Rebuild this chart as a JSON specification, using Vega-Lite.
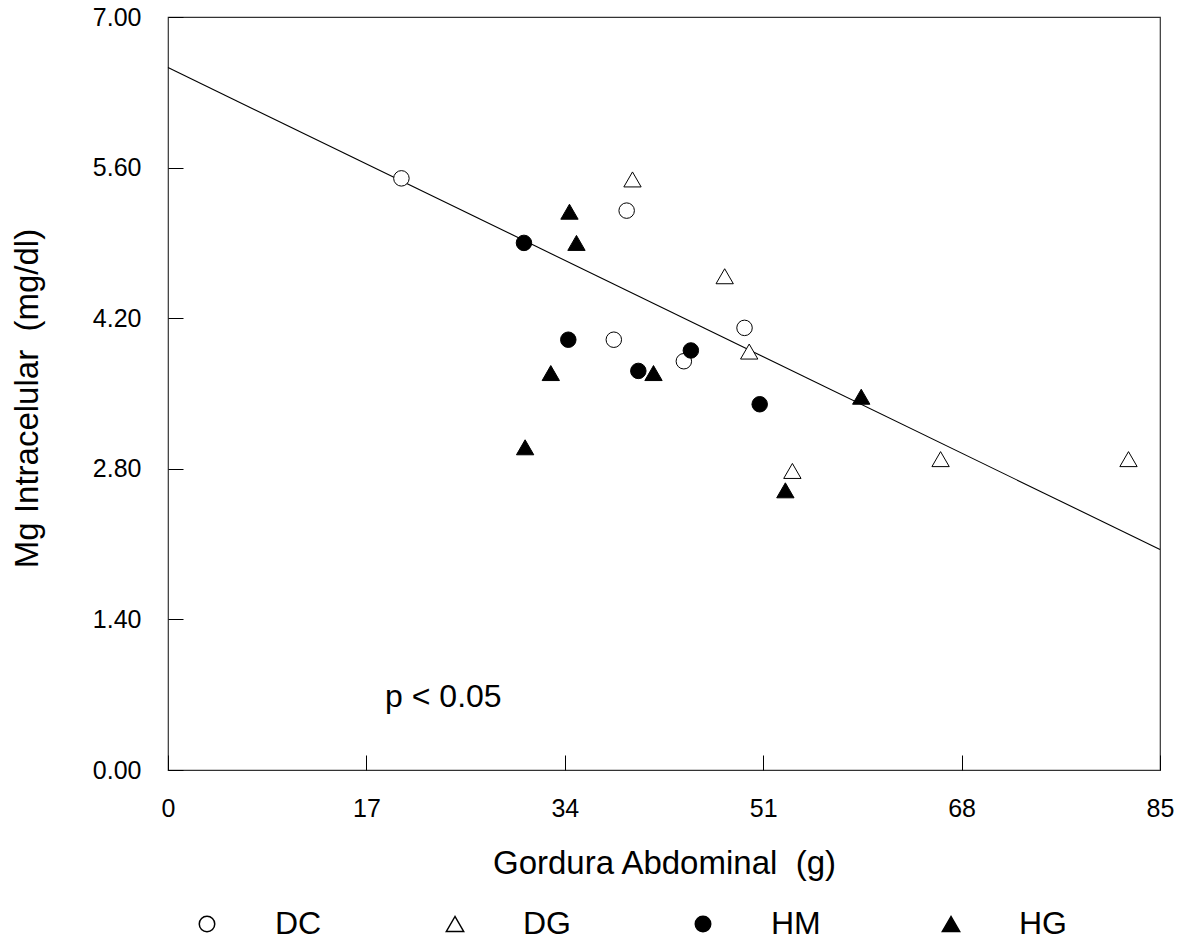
{
  "$schema": "https://vega.github.io/schema/vega-lite/v6.json",
  "width": 992,
  "height": 753,
  "autosize": {"type": "none"},
  "padding": {"left": 168, "top": 17, "right": 26, "bottom": 171},
  "background": "white",
  "config": {
    "font": "Liberation Sans",
    "view": {"stroke": "#333333", "strokeWidth": 1.2}
  },
  "datasets": {
    "pontos": [
      {"grupo": "DC", "gordura": 20.0, "mg": 5.50},
      {"grupo": "DC", "gordura": 39.3, "mg": 5.20},
      {"grupo": "DC", "gordura": 38.2, "mg": 4.00},
      {"grupo": "DC", "gordura": 44.2, "mg": 3.80},
      {"grupo": "DC", "gordura": 49.4, "mg": 4.11},
      {"grupo": "DG", "gordura": 39.8, "mg": 5.49},
      {"grupo": "DG", "gordura": 47.7, "mg": 4.59},
      {"grupo": "DG", "gordura": 49.8, "mg": 3.89},
      {"grupo": "DG", "gordura": 53.5, "mg": 2.78},
      {"grupo": "DG", "gordura": 66.2, "mg": 2.89},
      {"grupo": "DG", "gordura": 82.3, "mg": 2.89},
      {"grupo": "HM", "gordura": 30.5, "mg": 4.90},
      {"grupo": "HM", "gordura": 34.3, "mg": 4.00},
      {"grupo": "HM", "gordura": 40.3, "mg": 3.71},
      {"grupo": "HM", "gordura": 44.8, "mg": 3.90},
      {"grupo": "HM", "gordura": 50.7, "mg": 3.40},
      {"grupo": "HG", "gordura": 34.4, "mg": 5.19},
      {"grupo": "HG", "gordura": 35.0, "mg": 4.90},
      {"grupo": "HG", "gordura": 32.8, "mg": 3.69},
      {"grupo": "HG", "gordura": 41.6, "mg": 3.69},
      {"grupo": "HG", "gordura": 30.6, "mg": 3.00},
      {"grupo": "HG", "gordura": 52.9, "mg": 2.60},
      {"grupo": "HG", "gordura": 59.4, "mg": 3.47}
    ],
    "regressao": [
      {"gordura": 0, "mg": 6.53},
      {"gordura": 85, "mg": 2.05}
    ],
    "anotacao": [
      {"gordura": 18.6, "mg": 0.59, "texto": "p < 0.05"}
    ]
  },
  "encoding": {
    "x": {
      "field": "gordura",
      "type": "quantitative",
      "scale": {"domain": [0, 85], "nice": false, "zero": false},
      "axis": {
        "values": [0, 17, 34, 51, 68, 85],
        "format": "d",
        "domain": false,
        "grid": false,
        "tickSize": -15,
        "tickColor": "black",
        "tickWidth": 1,
        "labelFontSize": 25,
        "labelColor": "black",
        "labelPadding": 41,
        "labelFlush": false,
        "title": "Gordura Abdominal\u00a0 (g)",
        "titleFontSize": 33,
        "titleFontWeight": "normal",
        "titleColor": "black",
        "titleBaseline": "alphabetic",
        "titleY": 103
      }
    },
    "y": {
      "field": "mg",
      "type": "quantitative",
      "scale": {"domain": [0, 7], "nice": false, "zero": false},
      "axis": {
        "values": [0, 1.4, 2.8, 4.2, 5.6, 7],
        "format": ".2f",
        "domain": false,
        "grid": false,
        "tickSize": -15,
        "tickColor": "black",
        "tickWidth": 1,
        "labelFontSize": 25,
        "labelColor": "black",
        "labelPadding": 42,
        "labelFlush": false,
        "title": "Mg Intracelular\u00a0 (mg/dl)",
        "titleFontSize": 33,
        "titleFontWeight": "normal",
        "titleColor": "black",
        "titleX": -124,
        "titleY": 381
      }
    }
  },
  "layer": [
    {
      "data": {"name": "regressao"},
      "mark": {"type": "line", "color": "black", "strokeWidth": 1.1}
    },
    {
      "data": {"name": "pontos"},
      "mark": {"type": "point", "filled": true, "stroke": "black", "strokeWidth": 1, "opacity": 1},
      "encoding": {
        "shape": {
          "field": "grupo",
          "type": "nominal",
          "scale": {"domain": ["DC", "DG", "HM", "HG"], "range": ["circle", "triangle-up", "circle", "triangle-up"]},
          "legend": {
            "orient": "none", "legendX": 23, "legendY": 891, "direction": "horizontal",
            "columns": 4, "gridAlign": "all", "title": null, "padding": 0,
            "labelFontSize": 32, "labelColor": "black", "labelOffset": 52, "columnPadding": 114,
            "encode": {"symbols": {"update": {"stroke": {"value": "black"}, "strokeWidth": {"value": 1}, "opacity": {"value": 1}}}}
          }
        },
        "fill": {
          "field": "grupo",
          "type": "nominal",
          "scale": {"domain": ["DC", "DG", "HM", "HG"], "range": ["white", "white", "black", "black"]},
          "legend": {
            "orient": "none", "legendX": 23, "legendY": 891, "direction": "horizontal",
            "columns": 4, "gridAlign": "all", "title": null, "padding": 0,
            "labelFontSize": 32, "labelColor": "black", "labelOffset": 52, "columnPadding": 114,
            "encode": {"symbols": {"update": {"stroke": {"value": "black"}, "strokeWidth": {"value": 1}, "opacity": {"value": 1}}}}
          }
        },
        "size": {
          "field": "grupo",
          "type": "nominal",
          "scale": {"type": "ordinal", "domain": ["DC", "DG", "HM", "HG"], "range": [240, 300, 240, 300]},
          "legend": {
            "orient": "none", "legendX": 23, "legendY": 891, "direction": "horizontal",
            "columns": 4, "gridAlign": "all", "title": null, "padding": 0,
            "labelFontSize": 32, "labelColor": "black", "labelOffset": 52, "columnPadding": 114,
            "encode": {"symbols": {"update": {"stroke": {"value": "black"}, "strokeWidth": {"value": 1}, "opacity": {"value": 1}}}}
          }
        }
      }
    },
    {
      "data": {"name": "anotacao"},
      "mark": {"type": "text", "align": "left", "baseline": "alphabetic", "fontSize": 32, "color": "black"},
      "encoding": {"text": {"field": "texto"}}
    }
  ]
}
